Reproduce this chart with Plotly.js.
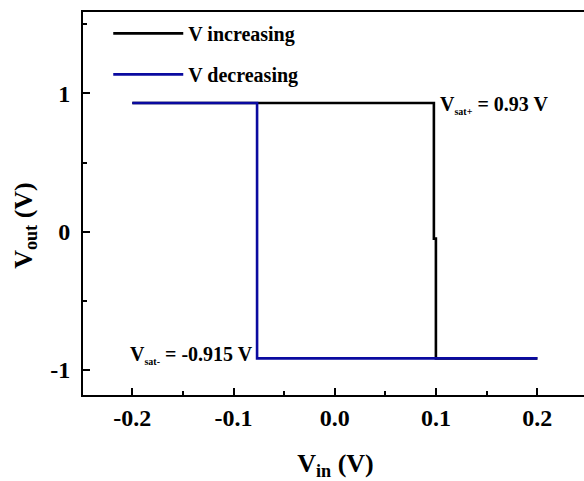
<!DOCTYPE html>
<html>
<head>
<meta charset="utf-8">
<script src="https://cdn.plot.ly/plotly-3.0.1.min.js"></script>
<style>html,body{margin:0;padding:0;overflow:hidden;background:#fff;}</style>
</head>
<body>
<div id="chart"></div>
<script>
// Sweep data
const incX = [-0.2, 0.0978, 0.0978, 0.0998, 0.0998, 0.2];
const incY = [0.93, 0.93, -0.05, -0.05, -0.915, -0.915];
const decX = [0.2, -0.0768, -0.0768, -0.2];
const decY = [-0.915, -0.915, 0.93, 0.93];
const seriesNames = ['V increasing', 'V decreasing'];
const xTicks = [-0.2, -0.1, 0.0, 0.1, 0.2];
const xTickText = ['-0.2', '-0.1', '0.0', '0.1', '0.2'];
const yTicks = [-1, 0, 1];
const yTickText = ['-1', '0', '1'];
const vSatPlus = 0.93;
const vSatMinus = -0.915;

const serif = 'Liberation Serif, Times New Roman, serif';

const traces = [
  {x: incX, y: incY, mode: 'lines', name: seriesNames[0], legendgroup: 'a',
   line: {color: '#000000', width: 2.6}},
  {x: decX, y: decY, mode: 'lines', name: seriesNames[1], legendgroup: 'b',
   line: {color: '#0a0aa0', width: 2.6}}
];

const axisCommon = {
  showline: true, mirror: true, linecolor: '#000', linewidth: 2,
  ticks: 'inside', ticklen: 7, tickwidth: 2, tickcolor: '#000',
  showgrid: false, zeroline: false,
  tickfont: {family: serif, size: 24, color: '#000', weight: 'bold'}
};

const subStyle = 'font-size:10px';

const layout = {
  width: 590, height: 481,
  margin: {l: 83, r: 2, t: 12, b: 86},
  paper_bgcolor: '#fff', plot_bgcolor: '#fff',
  showlegend: true,
  legend: {
    x: 0.05, y: 0.995, xanchor: 'left', yanchor: 'top',
    bgcolor: 'rgba(0,0,0,0)', borderwidth: 0,
    traceorder: 'grouped', tracegroupgap: 12, itemwidth: 70,
    font: {family: serif, size: 20, color: '#000', weight: 'bold'}
  },
  xaxis: Object.assign({}, axisCommon, {
    range: [-0.2487, 0.25], tickvals: xTicks, ticktext: xTickText,
    minor: {ticks: 'inside', ticklen: 4, tickwidth: 2, tickcolor: '#000', dtick: 0.05, showgrid: false},
    title: {text: 'V<sub>in</sub> (V)', standoff: 24,
            font: {family: serif, size: 26, color: '#000', weight: 'bold'}}
  }),
  yaxis: Object.assign({}, axisCommon, {
    range: [-1.18, 1.588], tickvals: yTicks, ticktext: yTickText,
    minor: {ticks: 'inside', ticklen: 4, tickwidth: 2, tickcolor: '#000', dtick: 0.5, showgrid: false},
    ticklabelstandoff: 6
  }),
  annotations: [
    {x: -0.115, y: 0.444, xref: 'paper', yref: 'paper', xanchor: 'center', yanchor: 'middle',
     textangle: -90, showarrow: false,
     text: 'V<sub>out</sub> (V)',
     font: {family: serif, size: 26, color: '#000', weight: 'bold'}},
    {x: 0.0998, y: vSatPlus, xref: 'x', yref: 'y', xanchor: 'left', yanchor: 'middle',
     xshift: 2, yshift: -2, showarrow: false,
     text: 'V<sub><span style="' + subStyle + '">sat+</span></sub> = ' + vSatPlus.toFixed(2) + ' V',
     font: {family: serif, size: 20, color: '#000', weight: 'bold'}},
    {x: -0.0768, y: vSatMinus, xref: 'x', yref: 'y', xanchor: 'right', yanchor: 'middle',
     xshift: -2, yshift: 3, showarrow: false,
     text: 'V<sub><span style="' + subStyle + '">sat-</span></sub> = ' + vSatMinus.toFixed(3) + ' V',
     font: {family: serif, size: 20, color: '#000', weight: 'bold'}}
  ]
};

Plotly.newPlot('chart', traces, layout, {displayModeBar: false, staticPlot: true});
</script>
</body>
</html>
